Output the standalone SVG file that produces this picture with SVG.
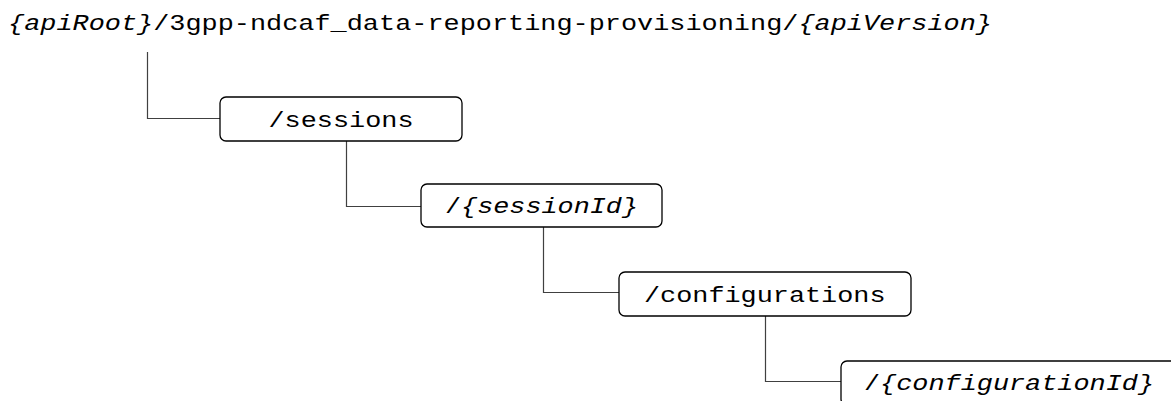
<svg xmlns="http://www.w3.org/2000/svg" width="1171" height="401" viewBox="0 0 1171 401">
<style>
.box{fill:#fff;stroke:#000;stroke-width:1.3}
.conn{fill:none;stroke:#404040;stroke-width:1.2}
.t{font-family:"Liberation Mono","Courier New",monospace;font-size:22px;fill:#000}
.i{font-style:italic}
</style>
<rect width="1171" height="401" fill="#fff"/>
<g id="connectors">
<path class="conn" d="M147.5 52V118.5H220"/>
<path class="conn" d="M346.5 141V206.5H421"/>
<path class="conn" d="M543.5 227V292.5H619"/>
<path class="conn" d="M765.5 316V381.5H841"/>
</g>
<g id="root">
<text class="t" x="8" y="30" textLength="984" lengthAdjust="spacingAndGlyphs"><tspan class="i">{apiRoot}</tspan>/3gpp-ndcaf_data-reporting-provisioning/<tspan class="i">{apiVersion}</tspan></text>
</g>
<g id="sessions">
<rect class="box" x="220" y="97" width="242" height="44" rx="6"/>
<text class="t" x="268.5" y="127" textLength="145" lengthAdjust="spacingAndGlyphs">/sessions</text>
</g>
<g id="sessionId">
<rect class="box" x="421" y="184" width="241" height="43" rx="6"/>
<text class="t" x="445" y="213" textLength="193" lengthAdjust="spacingAndGlyphs">/<tspan class="i">{sessionId}</tspan></text>
</g>
<g id="configurations">
<rect class="box" x="619" y="272" width="292" height="44" rx="6"/>
<text class="t" x="644" y="302" textLength="241.5" lengthAdjust="spacingAndGlyphs">/configurations</text>
</g>
<g id="configurationId">
<rect class="box" x="841" y="361" width="340" height="44" rx="6"/>
<text class="t" x="864" y="390" textLength="290" lengthAdjust="spacingAndGlyphs">/<tspan class="i">{configurationId}</tspan></text>
</g>
</svg>
